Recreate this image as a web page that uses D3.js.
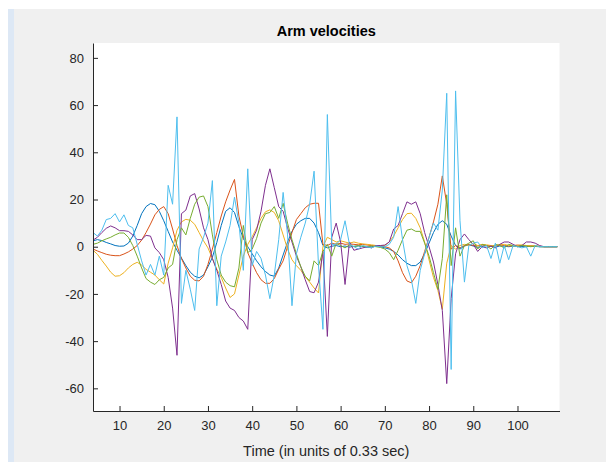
<!DOCTYPE html>
<html>
<head>
<meta charset="utf-8">
<script src="https://cdn.jsdelivr.net/npm/d3@7"></script>
<style>
  html, body { margin: 0; padding: 0; background: #ffffff; }
  svg { display: block; }
</style>
</head>
<body>
<svg id="chart" width="606" height="462"></svg>
<script>
// Sample index (time steps 4..109)
const timeSteps = d3.range(4, 110);

// Velocity traces, one per arm joint
const velBlue = [
  2.5, 3, 2.6, 1.8, 1.2, 0.5, 0.2, 0.3, 1.5, 4.5,
  9, 14, 17, 18.3, 17.8, 15, 11, 6.5, 2, -1.5,
  -4.8, -8, -10.8, -12.5, -13.2, -12, -8.5, -4.5, 1.8, 9,
  15, 16.5, 14.5, 8.5, 3.5, 0, -3, -6, -8.5, -10.5,
  -12, -12.5, -9, -3.5, 2, 6.5, 9.5, 11, 12, 12,
  10, 6, 0.5, -0.5, 0.2, 0.5, 0, 0.3, -0.2, 0.2,
  0.3, 0.1, -0.2, 0, 0.2, 0, -0.5, -1, -2, -3.5,
  -5.5, -7, -8, -8, -6.5, -3, 1.5, 6, 9.5, 11,
  9.5, 4.5, 0.5, -1, 0.3, 0.8, 0.3, -0.3, 0.2, 0.5,
  0.2, -0.2, 0.3, 0.2, 0, 0.2, 0.3, 0.1, 0, 0.2,
  0.1, 0, 0, 0, 0, 0
];
const velOrange = [
  -1, -1.8, -2.5, -3.2, -3.6, -3.8, -3.8, -3.1, -2.2, -1,
  0.5, 2.8, 6, 9.6, 13.5, 15.8, 17, 14, 7.5, 0.5,
  -5, -9, -12.5, -14.2, -14.5, -12.5, -7.5, -1, 6, 13,
  19, 24, 28.5, 13, 4.5, -2.5, -7, -11, -14, -15.5,
  -15.5, -13.5, -9.5, -6, 0, 6, 11.5, 14, 16.5, 18,
  18.4, 18.4, 1, 0.5, 1.5, 1, 1.5, 1, 1.2, 1,
  0.8, 1, 0.7, 0.5, 0.3, 0.2, 0, -0.5, -2, -6,
  -11, -14.5, -15.3, -12.5, -8, -2, 4, 10.5, 18, 30,
  18, -1, 0.5, -0.5, 0.5, 1, 0.5, 0.3, 0.8, 0.5,
  0.3, 0.5, 0.8, 0.5, 0.3, 0.5, 0.7, 0.5, 0.3, 0.4,
  0.2, 0.1, 0, 0, 0, 0
];
const velYellow = [
  -1.5, -3.2, -5.8, -8.2, -10.8, -12.5, -12.3, -11, -9, -7.5,
  -6.6, -7.8, -9.6, -10.8, -12, -14, -15.8, -7, -0.5, 7,
  10.5, 11.6, 11.2, 9.5, 6, 2.5, -0.5, -5, -9.5, -13,
  -17.5, -21.5, -20, -12, -4, 1, 4.2, 8, 12, 14.8,
  15.6, 14.5, 11, 5, -1, -5.5, -8, -10, -12.7, -15,
  -17.5, -19.6, 0, 4, 3, 2, 2.5, 2, 1.5, 2,
  1.5, 1.2, 1, 0.8, 0.5, 0.5, 0.5, 2, 4.5, 8,
  11.5, 14, 14.2, 12, 8, 2, -5.6, -13, -18.5, -26.5,
  -7, 0.5, -1, 0.5, 1, 0.5, 1.5, 0.5, 1, 0.8,
  0.5, 0.3, 0.8, 1, 0.5, 0.3, 0.5, 0.8, 0.5, 0.3,
  0.4, 0.2, 0, 0, 0, 0
];
const velPurple = [
  2.8, 4, 6, 7.8, 8.8, 8, 6.8, 6.8, 6.5, 5,
  3, 3, 4.8, 4.5, -0.5, -2.5, -5.5, -13, -26, -46,
  14, 15.5, 21.5, 22.5, 16, 8, 3, -5, -10, -16,
  -23, -26, -27, -30, -31.5, -35, 3, 7, 15, 26,
  33, 25, 17, 15, 8, 2, -4, -8.5, -14, -19,
  -19.5, -15, -2, -38, 4, 10, 2, -16, 2, -1.5,
  -1, -0.5, 0, -0.5, 0.5, 0.5, 0.7, 2, 7.5, 9,
  14, 19, 18, 19, 14, 6, 0, -6.5, -16, -27,
  -58, -22, -3, 3, 5.4, 3, 1, -2, 0, -0.5,
  0.3, -0.5, 1, 2, 2, 1, 0, 0.5, 2, 2,
  1.5, 0.5, 0, 0, 0, 0
];
const velGreen = [
  1, 1.5, 2.5, 3.3, 4, 5, 5.8, 5.8, 4, 0.5,
  -4, -9, -13.5, -15, -16, -14, -13, -9, -7.5, 3,
  8, 5, 12, 18, 21, 21.5, 17, 5, -5.5, -12,
  -15, -16.5, -17, -9, 9, -2.5, -1, 3.5, 10, 14,
  14.5, 17, 12, 18.4, 10, 3, -3, -8.5, -12.5, -14.5,
  -6, -8, -2, 1, -4, 1.5, 0.5, -0.5, 0.8, 0,
  0.5, 0.2, 0, 0.3, 0, -0.3, -1, -2.5, -5.5, -1.5,
  3, 7, 7.5, 6.5, 6.5, 1.5, -4, -11, -18, -5,
  22, -8, 8, -4, 0.5, 1.5, 2.5, -1, 1, 0.5,
  -1, 1, 0.5, -0.5, 1, 0.5, 0, 0.5, 0.3, 0,
  0.3, 0, 0, 0, 0, 0
];
const velCyan = [
  6, 4.5, 7, 11.5, 12, 14, 10.5, 13.5, 9, 8,
  1, -6, -12, -7.5, -12, -4, -12, 26, 18, 55,
  -24, -10, -18, -27, -1, 4, 10, 28, -25, -4,
  2, 9, 21, 10, -10, 33, -8, -2, -5, -12,
  -22, -12, 3, 23, 5, -25, -3, 4, 10, 18,
  32, -8, -35, 56, 1, 1, 3, 11, 1, 0,
  -1, 0.5, 0, -0.5, 0.3, 0, 0, 1, 4, 17,
  3, -8, -14, -24, -10, -3, 4, 10, 7, 24,
  65, -52, 66, 11, -15, 0.5, 1.5, 2, -0.5, 0.5,
  -5, 1.5, -7, 0.5, -5.5, 0.5, 0, -0.5, 0, -4,
  0.5, 0, 0, 0, 0, 0
];

const seriesList = [velBlue, velOrange, velYellow, velPurple, velGreen, velCyan];
const seriesColors = ["#0072BD", "#D95319", "#EDB120", "#7E2F8E", "#77AC30", "#4DBEEE"];

const yTickValues = [-60, -40, -20, 0, 20, 40, 60, 80];
const xTickValues = [10, 20, 30, 40, 50, 60, 70, 80, 90, 100];

const titleText = "Arm velocities";
const xLabelText = "Time (in units of 0.33 sec)";

const svg = d3.select("#chart");
const font = "Helvetica, 'Liberation Sans', Arial, sans-serif";

// Figure window background
svg.append("rect").attr("x", 14).attr("y", 9).attr("width", 592).attr("height", 453).attr("fill", "#f0f0f0");
svg.append("rect").attr("x", 8).attr("y", 9).attr("width", 6).attr("height", 453).attr("fill", "#dde8f5");

const plot = { left: 93, right: 559.5, top: 43, bottom: 411 };

const x = d3.scaleLinear().domain([4, 109.5]).range([plot.left, plot.right]);
const y = d3.scaleLinear().domain([-69.6, 86.3]).range([plot.bottom, plot.top]);

// Axes background
svg.append("rect")
  .attr("x", plot.left).attr("y", plot.top)
  .attr("width", plot.right - plot.left).attr("height", plot.bottom - plot.top)
  .attr("fill", "#ffffff");

svg.append("clipPath").attr("id", "plot-clip")
  .append("rect")
  .attr("x", plot.left).attr("y", plot.top)
  .attr("width", plot.right - plot.left).attr("height", plot.bottom - plot.top);

const line = d3.line()
  .x((d, i) => x(timeSteps[i]))
  .y(d => y(d));

svg.append("g").attr("clip-path", "url(#plot-clip)")
  .selectAll("path")
  .data(seriesList)
  .join("path")
  .attr("d", line)
  .attr("fill", "none")
  .attr("stroke", (d, i) => seriesColors[i])
  .attr("stroke-width", 1)
  .attr("stroke-linejoin", "round");

// Axes (ticks point inward, plain hyphen for negatives)
const axisColor = "#262626";
const plainNumber = d => String(d);

const yAxis = svg.append("g")
  .attr("transform", `translate(${plot.left},0)`)
  .call(d3.axisLeft(y).tickValues(yTickValues).tickFormat(plainNumber)
    .tickSizeInner(-5).tickSizeOuter(0).tickPadding(9));

const xAxis = svg.append("g")
  .attr("transform", `translate(0,${plot.bottom})`)
  .call(d3.axisBottom(x).tickValues(xTickValues).tickFormat(plainNumber)
    .tickSizeInner(-5).tickSizeOuter(0).tickPadding(10));

[yAxis, xAxis].forEach(g => {
  g.select(".domain").attr("stroke", axisColor).attr("stroke-width", 1);
  g.selectAll(".tick line").attr("stroke", axisColor);
  g.selectAll(".tick text")
    .attr("fill", axisColor)
    .style("font-family", font)
    .style("font-size", "13px");
});

svg.append("text")
  .attr("x", (plot.left + plot.right) / 2)
  .attr("y", 36)
  .attr("text-anchor", "middle")
  .style("font-family", font)
  .style("font-size", "14.5px")
  .style("font-weight", "bold")
  .attr("fill", "#000000")
  .text(titleText);

svg.append("text")
  .attr("x", (plot.left + plot.right) / 2)
  .attr("y", 456)
  .attr("text-anchor", "middle")
  .style("font-family", font)
  .style("font-size", "14.5px")
  .attr("fill", axisColor)
  .text(xLabelText);
</script>
</body>
</html>
